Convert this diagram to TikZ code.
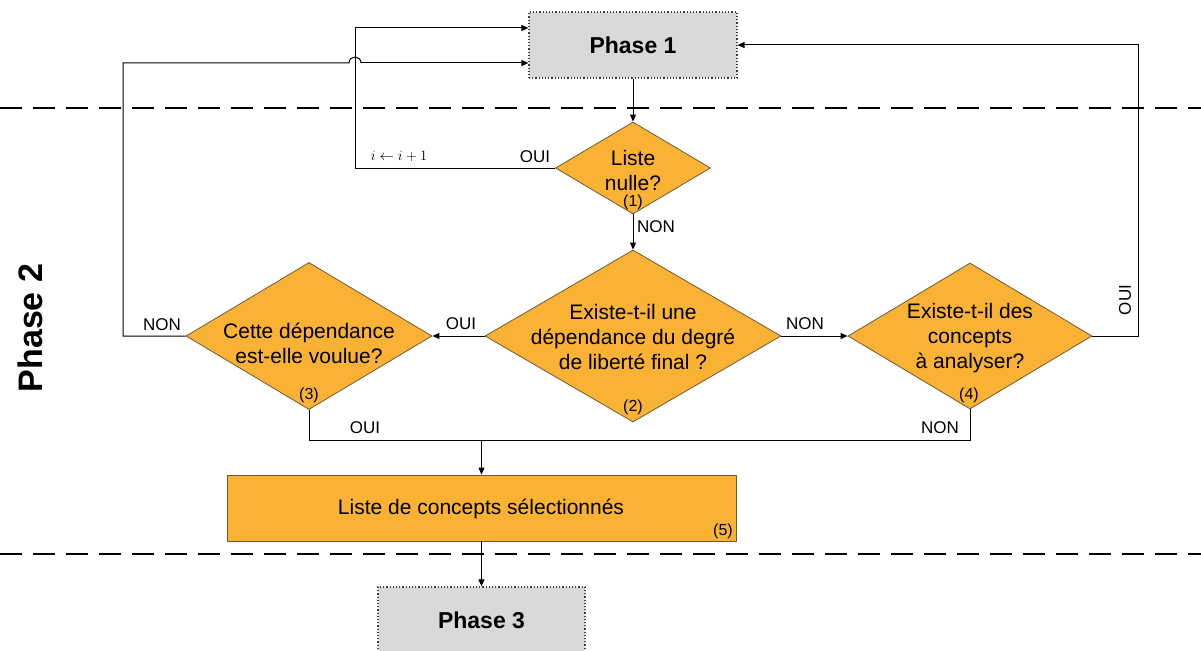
\documentclass[tikz,border=0pt]{standalone}
\usepackage{fontspec}
\setmainfont{Liberation Sans}
\usetikzlibrary{arrows.meta,shapes.geometric,calc}
\definecolor{orangefill}{HTML}{F9B233}
\definecolor{grayfill}{HTML}{D9D9D9}
\definecolor{bordercol}{HTML}{6E5A3A}
\tikzset{
  conn/.style={draw=black, line width=1pt},
  arr/.style={conn, -{Triangle[length=7pt,width=6pt]}},
  decision/.style={diamond, draw=bordercol, line width=0.8pt, fill=orangefill, inner sep=0pt},
  procbox/.style={rectangle, draw=bordercol, line width=0.8pt, fill=orangefill, inner sep=0pt},
  phasebox/.style={rectangle, draw=black!75, dotted, line width=1.2pt, fill=grayfill, inner sep=0pt,
    font=\fontsize{23}{26}\selectfont\bfseries},
  dtext/.style={font=\fontsize{21}{25}\selectfont, align=center, inner sep=0pt},
  numtext/.style={font=\fontsize{16}{18}\selectfont, inner sep=0pt},
  lbl/.style={font=\fontsize{17}{19}\selectfont, inner sep=0pt},
  sepline/.style={draw=black, line width=1.4pt, dash pattern=on 22pt off 11pt},
}
\begin{document}
\begin{tikzpicture}[x=1pt,y=-1pt]
\clip (0,0) rectangle (1201,650);
\fill[white] (0,0) rectangle (1201,650);

% separators
\draw[sepline] (0,108) -- (1201,108);
\draw[sepline] (0,554) -- (1201,554);

% phase label
\node[rotate=90, font=\fontsize{34}{38}\selectfont\bfseries] (ph2) at (30,328) {Phase 2};

% nodes
\node[phasebox, minimum width=208pt, minimum height=66pt] (P1) at (633,45) {Phase 1};
\node[phasebox, minimum width=207pt, minimum height=66pt] (P3) at (481.5,620) {Phase 3};

\node[decision, minimum width=155pt, minimum height=92pt] (d1) at (633,168) {};
\node[decision, minimum width=296pt, minimum height=172pt] (d2) at (633,336) {};
\node[decision, minimum width=246pt, minimum height=147pt] (d3) at (309,336) {};
\node[decision, minimum width=244pt, minimum height=146pt] (d4) at (970,336) {};
\node[procbox, minimum width=509pt, minimum height=66pt] (b5) at (481.5,508) {};

% texts in shapes
\node[dtext] (t1) at (633,170) {Liste\\nulle?};
\node[numtext] (n1) at (633,202) {(1)};
\node[dtext] (t2) at (633,337) {Existe-t-il une\\dépendance du degré\\de liberté final ?};
\node[numtext] (n2) at (633,407) {(2)};
\node[dtext] (t3) at (309,343.5) {Cette dépendance\\est-elle voulue?};
\node[numtext] (n3) at (309,395) {(3)};
\node[dtext] (t4) at (970,338) {Existe-t-il des\\concepts\\à analyser?};
\node[numtext] (n4) at (969,395) {(4)};
\node[dtext] (t5) at (481,509) {Liste de concepts sélectionnés};
\node[numtext] (n5) at (723,531) {(5)};

% connectors
\draw[arr] (P1.south) -- (d1.north);
\draw[arr] (d1.south) -- (d2.north);
\node[lbl, anchor=west] (lnon1) at (637,227) {NON};

\coordinate (loopTop) at (355,28);
\draw[arr] (d1.west) -| (loopTop) -- (loopTop -| P1.west);
\node[lbl] (loui1) at (535,157) {OUI};
\node[font=\fontsize{15}{17}\selectfont, inner sep=0pt] (linc) at (399,156) {$i \leftarrow i+1$};

\draw[arr] (d2.west) -- (d3.east);
\node[lbl] (loui2) at (461,324) {OUI};
\draw[arr] (d2.east) -- (d4.west);
\node[lbl] (lnon2) at (805,324) {NON};

\coordinate (leftCorner) at (123,63);
\coordinate (hopL) at (349,63);
\coordinate (hopR) at (361,63);
\draw[conn] (d3.west) -| (leftCorner) -- (hopL) .. controls (349,55) and (361,55) .. (hopR);
\draw[arr] (hopR) -- (hopR -| P1.west);
\node[lbl] (lnon3) at (162,325) {NON};

\coordinate (rightCorner) at (1138,336);
\draw[arr] (d4.east) -- (rightCorner) |- (P1.east);
\node[lbl, rotate=90] (loui4) at (1125,300) {OUI};

\coordinate (jl) at (309,440);
\draw[conn] (d3.south) -- (jl) -- (jl -| d4.south) -- (d4.south);
\node[lbl] (loui3) at (365,428) {OUI};
\node[lbl] (lnon4) at (940,428) {NON};
\draw[arr] (jl -| b5.north) -- (b5.north);
\draw[arr] (b5.south) -- (P3.north);
\end{tikzpicture}
\end{document}
